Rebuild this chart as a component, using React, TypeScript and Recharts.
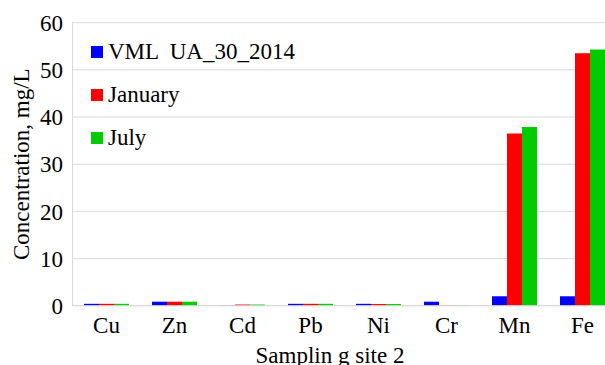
import React from 'react';
import { BarChart, Bar, XAxis, YAxis, CartesianGrid, Legend } from 'recharts';

const categories = ['Cu', 'Zn', 'Cd', 'Pb', 'Ni', 'Cr', 'Mn', 'Fe'];
const vml = [0.4, 0.85, 0.05, 0.4, 0.4, 0.85, 2.0, 2.0];
const january = [0.4, 0.85, 0.25, 0.4, 0.35, 0.08, 36.5, 53.5];
const july = [0.4, 0.85, 0.25, 0.4, 0.35, 0.08, 37.9, 54.3];
const yTicks = [0, 10, 20, 30, 40, 50, 60];

const seriesNames = ['VML  UA_30_2014', 'January', 'July'];
const seriesColors = ['#0000FF', '#FF0000', '#00CC00'];

const data = categories.map((c, i) => ({
  name: c,
  vml: vml[i],
  january: january[i],
  july: july[i],
}));

const FONT = '"Liberation Serif", "Times New Roman", serif';
const FS = 23;

const renderLegend = () => (
  <div style={{ fontFamily: FONT, fontSize: FS, color: '#000' }}>
    {seriesNames.map((n, i) => (
      <div key={n} style={{ display: 'flex', alignItems: 'center', height: 43, whiteSpace: 'pre' }}>
        <span style={{ display: 'inline-block', width: 12, height: 12, background: seriesColors[i], marginRight: 5 }} />
        <span>{n}</span>
      </div>
    ))}
  </div>
);

export default function App() {
  return (
    <div style={{ position: 'absolute', left: 0, top: 0, width: 605, height: 365, overflow: 'hidden', background: '#fff' }}>
      <BarChart
        width={620}
        height={365}
        data={data}
        margin={{ top: 22.7, right: 3.5, bottom: 0, left: 0 }}
        barCategoryGap={11.5}
        barGap={0}
      >
        <CartesianGrid vertical={false} stroke="#d9d9d9" strokeWidth={1} />
        <XAxis
          dataKey="name"
          height={59.3}
          tickLine={false}
          tickSize={0}
          tickMargin={11}
          axisLine={{ stroke: '#d9d9d9' }}
          tick={{ fill: '#000', fontSize: FS, fontFamily: FONT }}
          interval={0}
          label={{ value: 'Samplin g site 2', position: 'insideBottom', offset: 2.3, dx: -14.5, fill: '#000', fontSize: FS, fontFamily: FONT }}
        />
        <YAxis
          width={72.5}
          domain={[0, 60]}
          ticks={yTicks}
          tickLine={false}
          tickSize={0}
          tickMargin={9.5}
          axisLine={{ stroke: '#d9d9d9' }}
          tick={{ fill: '#000', fontSize: FS, fontFamily: FONT }}
          label={{ value: 'Concentration, mg/L', angle: -90, position: 'insideLeft', offset: 21, textAnchor: 'middle', fill: '#000', fontSize: FS, fontFamily: FONT }}
        />
        <Legend
          layout="vertical"
          verticalAlign="middle"
          align="center"
          content={renderLegend}
          wrapperStyle={{ left: 91, top: 30, width: 'auto', height: 'auto' }}
        />
        <Bar dataKey="vml" name={seriesNames[0]} fill={seriesColors[0]} isAnimationActive={false} />
        <Bar dataKey="january" name={seriesNames[1]} fill={seriesColors[1]} isAnimationActive={false} />
        <Bar dataKey="july" name={seriesNames[2]} fill={seriesColors[2]} isAnimationActive={false} />
      </BarChart>
    </div>
  );
}
